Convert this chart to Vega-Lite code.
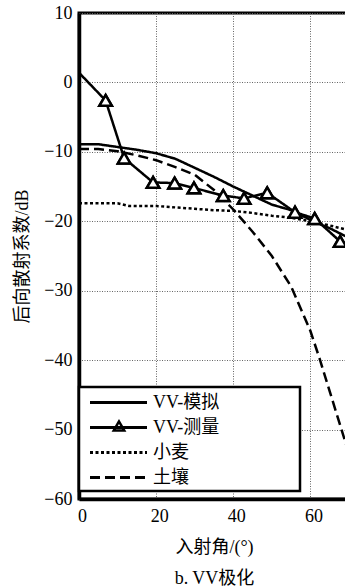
{
  "$schema": "https://vega.github.io/schema/vega-lite/v6.json",
  "autosize": {"type": "none"},
  "width": 270,
  "height": 486,
  "padding": {"left": 79, "top": 13, "right": 0, "bottom": 87},
  "config": {
    "font": "Liberation Serif, Noto Sans CJK SC",
    "view": {"stroke": "black", "strokeWidth": 3},
    "legend": {"strokeWidth": 2.5},
    "axis": {
      "labelFont": "Liberation Serif, Noto Sans CJK SC",
      "titleFont": "Liberation Serif, Noto Sans CJK SC",
      "labelFontSize": 18,
      "titleFontSize": 18,
      "titleFontWeight": "normal",
      "labelColor": "black",
      "titleColor": "black",
      "domainColor": "black",
      "domainWidth": 3.5,
      "ticks": false,
      "tickSize": 0,
      "grid": true,
      "gridColor": "#666",
      "gridDash": [1, 1.5],
      "gridWidth": 1,
      "gridOpacity": 1
    }
  },
  "data": {
    "values": [
      {"series": "VV-模拟", "x": 0, "y": -8.9},
      {"series": "VV-模拟", "x": 5, "y": -8.9},
      {"series": "VV-模拟", "x": 10, "y": -9.3},
      {"series": "VV-模拟", "x": 15, "y": -9.7},
      {"series": "VV-模拟", "x": 20, "y": -10.2},
      {"series": "VV-模拟", "x": 25, "y": -11.0},
      {"series": "VV-模拟", "x": 30, "y": -12.3},
      {"series": "VV-模拟", "x": 35, "y": -13.6},
      {"series": "VV-模拟", "x": 40, "y": -15.0},
      {"series": "VV-模拟", "x": 45, "y": -16.3},
      {"series": "VV-模拟", "x": 50, "y": -17.6},
      {"series": "VV-模拟", "x": 55, "y": -18.4},
      {"series": "VV-模拟", "x": 60, "y": -19.8},
      {"series": "VV-模拟", "x": 65, "y": -21.0},
      {"series": "VV-模拟", "x": 70, "y": -22.4},
      {"series": "VV-测量", "x": 0, "y": 1.4},
      {"series": "VV-测量", "x": 6.9, "y": -2.6},
      {"series": "VV-测量", "x": 11.7, "y": -10.9},
      {"series": "VV-测量", "x": 19.2, "y": -14.4},
      {"series": "VV-测量", "x": 24.8, "y": -14.5},
      {"series": "VV-测量", "x": 29.8, "y": -15.2},
      {"series": "VV-测量", "x": 37.4, "y": -16.3},
      {"series": "VV-测量", "x": 42.8, "y": -16.7},
      {"series": "VV-测量", "x": 48.8, "y": -15.9},
      {"series": "VV-测量", "x": 56, "y": -18.7},
      {"series": "VV-测量", "x": 61.1, "y": -19.6},
      {"series": "VV-测量", "x": 67.7, "y": -22.9},
      {"series": "小麦", "x": 0, "y": -17.4},
      {"series": "小麦", "x": 10, "y": -17.4},
      {"series": "小麦", "x": 13, "y": -17.8},
      {"series": "小麦", "x": 20, "y": -17.8},
      {"series": "小麦", "x": 25, "y": -18.0},
      {"series": "小麦", "x": 30, "y": -18.2},
      {"series": "小麦", "x": 35, "y": -18.4},
      {"series": "小麦", "x": 40, "y": -18.5},
      {"series": "小麦", "x": 45, "y": -18.8},
      {"series": "小麦", "x": 50, "y": -19.2},
      {"series": "小麦", "x": 55, "y": -19.5},
      {"series": "小麦", "x": 60, "y": -20.0},
      {"series": "小麦", "x": 65, "y": -20.6},
      {"series": "小麦", "x": 70, "y": -21.3},
      {"series": "土壤", "x": 0, "y": -9.6},
      {"series": "土壤", "x": 5, "y": -9.6},
      {"series": "土壤", "x": 10, "y": -9.9},
      {"series": "土壤", "x": 15, "y": -10.5},
      {"series": "土壤", "x": 20, "y": -11.2},
      {"series": "土壤", "x": 25, "y": -12.2},
      {"series": "土壤", "x": 30, "y": -13.3},
      {"series": "土壤", "x": 35, "y": -15.5},
      {"series": "土壤", "x": 40, "y": -18.3},
      {"series": "土壤", "x": 45, "y": -21.5},
      {"series": "土壤", "x": 50, "y": -25.0},
      {"series": "土壤", "x": 55, "y": -29.4},
      {"series": "土壤", "x": 60, "y": -35.8},
      {"series": "土壤", "x": 62.5, "y": -40.0},
      {"series": "土壤", "x": 65, "y": -44.5},
      {"series": "土壤", "x": 67.5, "y": -49.0},
      {"series": "土壤", "x": 70, "y": -53.5}
    ]
  },
  "encoding": {
    "x": {
      "field": "x",
      "type": "quantitative",
      "scale": {"domain": [0, 70], "nice": false, "zero": false},
      "axis": {
        "values": [0, 20, 40, 60],
        "labelFlush": false,
        "labelPadding": 8,
        "labelOffset": 3,
        "title": ["入射角/(°)", "b. VV极化"],
        "titleLineHeight": 31,
        "titleBaseline": "top",
        "titleY": 39
      }
    },
    "y": {
      "field": "y",
      "type": "quantitative",
      "scale": {"domain": [-60, 10], "nice": false, "zero": false},
      "axis": {
        "values": [-60, -50, -40, -30, -20, -10, 0, 10],
        "labelPadding": 7,
        "title": "后向散射系数/dB",
        "titleX": -57,
        "titleBaseline": "middle"
      }
    }
  },
  "layer": [
    {
      "mark": {"type": "line", "color": "black", "strokeWidth": 2.5, "clip": true},
      "encoding": {
        "detail": {"field": "series"},
        "strokeDash": {
          "field": "series",
          "type": "nominal",
          "scale": {
            "domain": ["VV-模拟", "VV-测量", "小麦", "土壤"],
            "range": [[1, 0], [1, 0], [3, 2.5], [10, 5]]
          },
          "legend": {
            "orient": "none",
            "legendX": 0,
            "legendY": 374,
            "title": null,
            "symbolType": "M-3,0H3",
            "symbolSize": 361,
            "symbolStrokeWidth": 3,
            "symbolStrokeColor": "black",
            "symbolOffset": 24,
            "labelOffset": 23.5,
            "labelFont": "Liberation Serif, Noto Sans CJK SC",
            "labelFontSize": 18,
            "labelColor": "black",
            "labelExpr": "datum.label + '\u2003\u2003\u2003\u2003\u2009\u200b'",
            "labelLimit": 400,
            "padding": 4.5,
            "rowPadding": 5,
            "fillColor": "white",
            "strokeColor": "black",
            "zindex": 1
          }
        }
      }
    },
    {
      "transform": [{"filter": "datum.series === 'VV-测量' && datum.x > 0"}],
      "mark": {"type": "point", "filled": false, "color": "black", "strokeWidth": 2.5, "size": 155, "opacity": 1},
      "encoding": {
        "shape": {
          "field": "series",
          "type": "nominal",
          "scale": {"range": ["triangle-up"]},
          "legend": {
            "orient": "none",
            "legendX": 33.5,
            "legendY": 406.5,
            "title": null,
            "padding": 0,
            "symbolOffset": 0,
            "symbolSize": 110,
            "symbolStrokeWidth": 2.5,
            "symbolStrokeColor": "black",
            "labelFontSize": 1,
            "labelExpr": "''",
            "labelOffset": 0,
            "zindex": 2
          }
        }
      }
    },
    {
      "transform": [{"filter": "datum.series === 'VV-测量' && datum.x > 0"}],
      "mark": {"type": "point", "filled": true, "fill": "white", "stroke": "black", "strokeWidth": 2.5, "size": 155, "opacity": 1, "shape": "triangle-up"},
      "encoding": {}
    }
  ]
}
